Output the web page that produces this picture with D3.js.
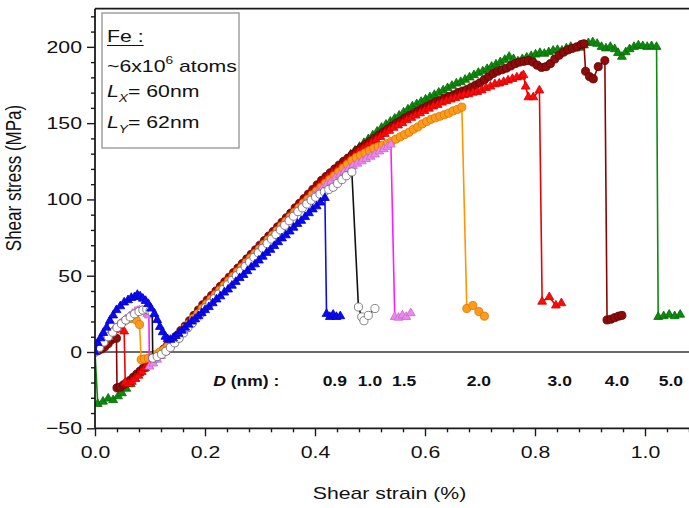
<!DOCTYPE html>
<html>
<head>
<meta charset="utf-8">
<script src="https://cdn.jsdelivr.net/npm/d3@7"></script>
<style>
  body { margin: 0; background: #fff; }
  svg { display: block; }
  text { font-family: Arial, "Liberation Sans", sans-serif; fill: #111; }
</style>
</head>
<body>
<svg id="chart" width="689" height="508"></svg>
<script>
// ---- data: shear strain (%) vs shear stress (MPa) for each void diameter D (nm)
const diameters = ["0.9", "1.0", "1.5", "2.0", "3.0", "4.0", "5.0"];

const curveD09 = [[0,0],[0.005,6],[0.010,9],[0.015,12.5],[0.021,16],[0.027,20.5],[0.033,24],[0.039,27.5],[0.046,30],[0.053,32.5],[0.060,34],[0.066,35.5],[0.072,36],[0.077,37.5],[0.082,36.5],[0.087,35],[0.092,33.5],[0.097,31.5],[0.102,28.5],[0.108,25],[0.113,21],[0.118,16.5],[0.123,13],[0.128,10],[0.132,8.5],[0.137,8],[0.142,9],[0.147,10.5],[0.152,12],[0.158,14],[0.164,16],[0.170,18],[0.176,20],[0.182,21.5],[0.188,23.5],[0.194,25.5],[0.200,27.5],[0.207,29.5],[0.214,32],[0.221,34.5],[0.228,36.5],[0.235,39],[0.242,41],[0.249,43.5],[0.256,46],[0.263,48.5],[0.270,50.5],[0.277,53],[0.284,55.5],[0.291,57.5],[0.298,60],[0.305,62.5],[0.312,65],[0.319,67],[0.326,69.5],[0.333,72],[0.340,74.5],[0.347,76.5],[0.354,79],[0.361,81.5],[0.368,84],[0.375,86],[0.382,88.5],[0.389,91],[0.396,93.5],[0.403,95.5],[0.410,98],[0.418,101],[0.421,25],[0.427,23],[0.433,24.5],[0.439,23],[0.446,23.5]];

const curveD10 = [[0,0],[0.008,3],[0.016,6.5],[0.024,10],[0.032,13],[0.040,16],[0.048,18.5],[0.056,21],[0.064,23],[0.072,25],[0.080,26.5],[0.087,27.5],[0.094,28],[0.100,27],[0.104,26],[0.105,-4],[0.113,-3],[0.121,-1.5],[0.129,0.5],[0.137,3],[0.145,6],[0.153,9],[0.161,12.5],[0.169,16],[0.177,19],[0.185,22.5],[0.193,25.5],[0.201,29],[0.209,32],[0.217,35],[0.225,38],[0.233,41],[0.241,44],[0.249,47],[0.257,50],[0.265,53],[0.273,56],[0.281,59],[0.289,62],[0.297,65],[0.305,68],[0.313,71],[0.321,74],[0.329,77],[0.337,80],[0.345,83],[0.353,86],[0.361,89],[0.369,92],[0.377,94.5],[0.385,97],[0.393,99.5],[0.401,101.5],[0.409,103.5],[0.417,105],[0.425,106.5],[0.433,108],[0.441,110.5],[0.449,113],[0.457,115.5],[0.467,118],[0.479,29.5],[0.485,23],[0.489,20.5],[0.497,24],[0.509,28.5]];

const curveD15 = [[0,0],[0.008,3.5],[0.016,7],[0.024,10],[0.032,13.5],[0.040,16],[0.048,19],[0.056,21.5],[0.063,23.5],[0.068,25],[0.073,26.5],[0.077,27],[0.081,27.5],[0.086,27],[0.090,26.5],[0.095,25],[0.098,24],[0.099,-9.5],[0.106,-7.5],[0.113,-5],[0.120,-2.5],[0.127,0],[0.134,2.5],[0.141,5.5],[0.149,8.5],[0.157,12],[0.165,15],[0.173,18],[0.181,21.5],[0.189,24.5],[0.197,28],[0.205,31],[0.213,34],[0.221,37],[0.229,40],[0.237,43],[0.245,46],[0.253,49],[0.261,52],[0.269,55.5],[0.277,58.5],[0.285,61.5],[0.293,64.5],[0.301,67.5],[0.309,70.5],[0.317,73.5],[0.325,76.5],[0.333,79.5],[0.341,82.5],[0.349,85.5],[0.357,88.5],[0.365,91.5],[0.373,94.5],[0.381,97],[0.389,99.5],[0.397,102],[0.405,104.5],[0.413,107],[0.421,109.5],[0.429,111.5],[0.437,114],[0.445,116],[0.453,118],[0.461,120],[0.469,122],[0.477,123.5],[0.485,125],[0.493,126.5],[0.501,128],[0.509,129.5],[0.517,131.5],[0.525,133],[0.532,134.5],[0.538,136],[0.545,23],[0.552,22.5],[0.559,24],[0.566,23],[0.574,25.5]];

const curveD20 = [[0,0],[0.008,3],[0.016,6.5],[0.024,10],[0.032,13],[0.040,16],[0.048,18.8],[0.057,21],[0.066,22],[0.075,21],[0.081,18],[0.084,-5],[0.090,-4.5],[0.097,-4],[0.104,-3],[0.111,-1.5],[0.118,0],[0.125,1.5],[0.132,3.5],[0.139,6],[0.147,9],[0.155,12],[0.163,15.5],[0.171,18.5],[0.179,22],[0.187,25],[0.195,28.5],[0.203,31.5],[0.211,34.5],[0.219,37.5],[0.227,40.5],[0.235,43.5],[0.243,46.5],[0.251,49.5],[0.259,52.5],[0.267,55.5],[0.275,58.5],[0.283,61.5],[0.291,64.5],[0.299,67.5],[0.307,70.5],[0.315,73.5],[0.323,76.5],[0.331,79.5],[0.339,82.5],[0.347,85.5],[0.355,88.5],[0.363,91.5],[0.371,94.5],[0.379,97.5],[0.387,100],[0.395,103],[0.403,105.5],[0.411,108],[0.419,110.5],[0.427,113],[0.435,115.5],[0.443,118],[0.451,120.5],[0.459,123],[0.467,125.5],[0.475,127.5],[0.483,129],[0.491,130.5],[0.499,132],[0.507,133.5],[0.515,134.5],[0.523,135.5],[0.531,136.5],[0.539,138],[0.547,139.5],[0.555,141],[0.563,142.5],[0.571,144],[0.579,146],[0.587,147.5],[0.595,149.5],[0.603,151],[0.611,152.5],[0.619,153.5],[0.627,154.5],[0.635,155.5],[0.643,156.5],[0.651,158],[0.659,159],[0.667,160.5],[0.676,28.5],[0.687,30.5],[0.698,26.5],[0.708,23.5]];

const curveD30 = [[0,0],[0.006,2.5],[0.012,5],[0.018,7.5],[0.024,10],[0.030,12.5],[0.036,14.5],[0.042,15.5],[0.048,15],[0.053,13.5],[0.055,-20],[0.061,-21],[0.067,-19.5],[0.073,-17.5],[0.079,-15.5],[0.085,-13],[0.091,-10.5],[0.097,-8.5],[0.103,-6],[0.109,-4],[0.115,-2],[0.121,0],[0.128,2.5],[0.135,5],[0.143,8],[0.151,11],[0.159,14.5],[0.167,17.5],[0.175,21],[0.183,24.5],[0.191,28],[0.199,31.5],[0.207,34.5],[0.215,37.5],[0.223,40.5],[0.231,43.5],[0.239,46.5],[0.247,49.5],[0.255,52.5],[0.263,55.5],[0.271,58.5],[0.279,61.5],[0.287,64.5],[0.295,67],[0.303,70],[0.311,73],[0.319,76],[0.327,79],[0.335,82],[0.343,85],[0.351,88],[0.359,91.5],[0.367,94.5],[0.375,97.5],[0.383,100.5],[0.391,103.5],[0.399,106],[0.407,109],[0.415,112],[0.423,114.5],[0.431,117],[0.439,119],[0.447,121.5],[0.455,124],[0.463,126.5],[0.471,128.5],[0.479,131],[0.487,133],[0.495,135],[0.503,137],[0.511,139],[0.519,141],[0.527,143],[0.535,145],[0.543,147],[0.551,148.5],[0.559,150],[0.567,152],[0.575,153.5],[0.583,155],[0.591,156.5],[0.599,158],[0.607,159.5],[0.615,161],[0.623,162],[0.631,163.5],[0.639,164.5],[0.647,165.5],[0.655,166.5],[0.663,167.5],[0.671,168.5],[0.679,169],[0.687,170],[0.695,170.5],[0.703,171.5],[0.711,173],[0.719,174],[0.727,175.5],[0.735,176],[0.743,177],[0.751,178],[0.759,179],[0.767,180],[0.775,180.5],[0.779,181.5],[0.783,174],[0.788,167],[0.797,167],[0.808,171.5],[0.813,33],[0.826,36],[0.838,30.5],[0.848,32]];

const curveD40 = [[0,0],[0.006,1],[0.012,2],[0.018,3.5],[0.024,5.5],[0.030,8],[0.035,9.5],[0.039,9],[0.040,-23.5],[0.046,-23],[0.052,-21.5],[0.058,-20],[0.064,-18.5],[0.070,-16.5],[0.076,-14.5],[0.082,-12.5],[0.088,-10.5],[0.094,-8.5],[0.100,-6.5],[0.106,-4.5],[0.112,-2.5],[0.118,-0.5],[0.125,2],[0.132,4.5],[0.140,7.5],[0.148,10.5],[0.156,14],[0.164,17],[0.172,20.5],[0.180,24],[0.188,27.5],[0.196,31],[0.204,34],[0.212,37],[0.220,40],[0.228,43],[0.236,46],[0.244,49],[0.252,52],[0.260,55],[0.268,58],[0.276,61],[0.284,64],[0.292,67],[0.300,70],[0.308,73],[0.316,76],[0.324,79],[0.332,82],[0.340,85],[0.348,88],[0.356,91],[0.364,94.5],[0.372,97.5],[0.380,100.5],[0.388,103.5],[0.396,106.5],[0.404,109.5],[0.412,112.5],[0.420,115],[0.428,117.5],[0.436,120],[0.444,122.5],[0.452,125],[0.460,127],[0.468,129.5],[0.476,132],[0.484,134],[0.492,136],[0.500,138],[0.508,140],[0.516,142],[0.524,144],[0.532,146],[0.540,148],[0.548,150],[0.556,151.5],[0.564,153.5],[0.572,155],[0.580,156.5],[0.588,158],[0.596,159.5],[0.604,161],[0.612,162.5],[0.620,164],[0.628,165],[0.636,166.5],[0.644,167.5],[0.652,168.5],[0.660,170],[0.668,171],[0.676,172],[0.684,173.5],[0.692,175],[0.700,176.5],[0.708,178.5],[0.716,180.5],[0.724,182.5],[0.732,184],[0.740,185],[0.748,186],[0.756,187.5],[0.764,189],[0.772,190],[0.780,190.5],[0.788,191],[0.796,190],[0.804,188],[0.812,186.5],[0.820,187],[0.828,189],[0.836,192],[0.844,194.5],[0.852,196.5],[0.860,198],[0.868,199],[0.876,200],[0.884,201.5],[0.889,202],[0.892,184],[0.899,180.5],[0.906,179],[0.915,187],[0.927,191],[0.931,21],[0.938,21.5],[0.945,22.5],[0.952,23.5],[0.958,24]];

const curveD50 = [[0,0],[0.005,-34],[0.0145,-32.5],[0.024,-30.5],[0.033,-31.5],[0.042,-29],[0.049,-27],[0.057,-24],[0.065,-21],[0.073,-17.5],[0.081,-14],[0.089,-11],[0.097,-8],[0.105,-5],[0.113,-2.5],[0.121,-0.5],[0.129,2],[0.137,5],[0.145,8],[0.153,11.5],[0.161,15],[0.169,18.5],[0.177,22],[0.185,25.5],[0.193,29],[0.201,32.5],[0.209,35.5],[0.217,38.5],[0.225,41.5],[0.233,44.5],[0.241,47.5],[0.249,50.5],[0.257,53.5],[0.265,56.5],[0.273,59.5],[0.281,62.5],[0.289,65.5],[0.297,68.5],[0.305,71.5],[0.313,74.5],[0.321,77.5],[0.329,80.5],[0.337,83.5],[0.345,86.5],[0.353,89.5],[0.361,92.5],[0.369,95.5],[0.377,98.5],[0.385,101.5],[0.393,104.5],[0.401,107.5],[0.409,110.5],[0.417,113.5],[0.425,116],[0.433,118.5],[0.441,121],[0.449,123.5],[0.457,126.5],[0.465,129.5],[0.473,132],[0.481,134.5],[0.489,137],[0.497,139.5],[0.505,142],[0.513,144.5],[0.521,147],[0.529,149],[0.537,151],[0.545,153],[0.553,155],[0.561,157],[0.569,159],[0.577,161],[0.585,162.5],[0.593,164],[0.601,165.5],[0.609,167],[0.617,168.5],[0.625,170],[0.633,171.5],[0.641,173],[0.649,174.5],[0.657,176],[0.665,177],[0.673,178.5],[0.681,180],[0.689,181.5],[0.697,183],[0.705,184],[0.713,185.5],[0.721,187],[0.729,188.5],[0.737,190],[0.745,191.5],[0.753,193.5],[0.761,192],[0.769,190.5],[0.777,192],[0.785,193],[0.793,194],[0.801,195],[0.809,196],[0.817,195.5],[0.825,196.5],[0.833,197.5],[0.841,198],[0.849,197.5],[0.857,199],[0.865,200],[0.873,199],[0.881,199.5],[0.889,201],[0.897,202.5],[0.905,203],[0.913,202],[0.921,200],[0.929,199],[0.937,200],[0.945,198.5],[0.951,196],[0.958,193.5],[0.965,196.5],[0.972,198.5],[0.980,200],[0.988,201],[0.996,200.5],[1.004,200],[1.012,200.5],[1.021,200],[1.024,23],[1.034,23.5],[1.044,24.5],[1.054,23.5],[1.064,24.5]];

const strainTicks = [0, 0.2, 0.4, 0.6, 0.8, 1.0];
const stressTicks = [-50, 0, 50, 100, 150, 200];

// ---- styling per curve (draw order: back to front)
const curves = [
  { d: "5.0", data: curveD50, shape: "tri",    fill: "#0b8a0b", stroke: "#066a06", line: "#0b8a0b" },
  { d: "4.0", data: curveD40, shape: "circle", fill: "#8e0b0b", stroke: "#5e0000", line: "#8b0000" },
  { d: "3.0", data: curveD30, shape: "tri",    fill: "#ff0a0a", stroke: "#d00000", line: "#ee0000" },
  { d: "2.0", data: curveD20, shape: "circle", fill: "#ff9a1a", stroke: "#d47800", line: "#ff9500" },
  { d: "1.5", data: curveD15, shape: "tri",    fill: "#e88ae8", stroke: "#cf62d6", line: "#ff1aff" },
  { d: "1.0", data: curveD10, shape: "circle", fill: "#ffffff", stroke: "#666666", line: "#111111" },
  { d: "0.9", data: curveD09, shape: "tri",    fill: "#0a0af5", stroke: "#0000c0", line: "#0a0af5" }
];

// strain positions of the D value labels below the zero line
const labelStrain = { "0.9": 0.436, "1.0": 0.5, "1.5": 0.562, "2.0": 0.698, "3.0": 0.845, "4.0": 0.949, "5.0": 1.047 };

const svg = d3.select("#chart");
const SX = 1.25; // horizontal stretch of lettering

const x = d3.scaleLinear().domain([0, 1.1]).range([95, 700]);
const y = d3.scaleLinear().domain([-50, 225]).range([428.3, 8.7]);

function stretchText(sel) {
  sel.each(function () {
    const t = d3.select(this);
    const tx = +t.attr("x") || 0;
    const ty = +t.attr("y") || 0;
    t.attr("x", 0).attr("y", 0).attr("transform", `translate(${tx},${ty}) scale(${SX},1)`);
  });
}

// clip region for the data
svg.append("defs").append("clipPath").attr("id", "plotClip")
  .append("rect").attr("x", x(0)).attr("y", y(225)).attr("width", 700 - x(0)).attr("height", y(-50) - y(225));

// zero line
svg.append("line")
  .attr("x1", x(0)).attr("x2", 700).attr("y1", y(0)).attr("y2", y(0))
  .attr("stroke", "#3a3a3a").attr("stroke-width", 1.5);

// curves
const plot = svg.append("g").attr("clip-path", "url(#plotClip)");
const lineGen = d3.line().x(d => x(d[0])).y(d => y(d[1]));
const triSym = d3.symbol().type(d3.symbolTriangle).size(34);
const cirSym = d3.symbol().type(d3.symbolCircle).size(52);

curves.forEach(c => {
  const g = plot.append("g");
  g.append("path").datum(c.data).attr("d", lineGen)
    .attr("fill", "none").attr("stroke", c.line).attr("stroke-width", 1.6)
    .attr("stroke-linejoin", "round");
  g.selectAll("path.mk").data(c.data).join("path").attr("class", "mk")
    .attr("d", c.shape === "tri" ? triSym : cirSym)
    .attr("transform", d => `translate(${x(d[0])},${y(d[1])})`)
    .attr("fill", c.fill).attr("stroke", c.stroke).attr("stroke-width", 0.8);
});

// axes
const axisColor = "#1a1a1a";
const yMajor = svg.append("g").attr("transform", `translate(${x(0)},0)`)
  .call(d3.axisLeft(y).tickValues(stressTicks).tickSize(8).tickPadding(5));
svg.append("g").attr("transform", `translate(${x(0)},0)`)
  .call(d3.axisLeft(y).tickValues(d3.range(-40, 225, 10).filter(v => v % 50 !== 0)).tickSize(4).tickFormat(""))
  .call(g => g.select(".domain").remove());
const xMajor = svg.append("g").attr("transform", `translate(0,${y(-50)})`)
  .call(d3.axisBottom(x).tickValues(strainTicks).tickFormat(d3.format(".1f")).tickSize(8).tickPadding(10));
svg.append("g").attr("transform", `translate(0,${y(-50)})`)
  .call(d3.axisBottom(x).tickValues(d3.range(0.04, 1.1, 0.04).filter(v => Math.abs(v / 0.2 - Math.round(v / 0.2)) > 1e-6)).tickSize(4).tickFormat(""))
  .call(g => g.select(".domain").remove());

[yMajor, xMajor].forEach(g => g.select(".domain").remove());
svg.selectAll(".tick line").attr("stroke", axisColor).attr("stroke-width", 1.4);
svg.selectAll(".tick text").attr("font-size", 17).attr("fill", "#111");
stretchText(yMajor.selectAll(".tick text"));
stretchText(xMajor.selectAll(".tick text"));

// frame lines
const frame = svg.append("g").attr("stroke", axisColor).attr("stroke-width", 1.8).attr("fill", "none");
frame.append("line").attr("x1", x(0)).attr("x2", x(0)).attr("y1", y(225)).attr("y2", y(-50));
frame.append("line").attr("x1", x(0)).attr("x2", 700).attr("y1", y(-50)).attr("y2", y(-50));
frame.append("line").attr("x1", x(0)).attr("x2", 700).attr("y1", y(225)).attr("y2", y(225));

// axis titles
svg.append("text").attr("font-size", 17).attr("text-anchor", "middle")
  .attr("transform", `translate(${(x(0) + 700) / 2 - 8},499) scale(${SX},1)`)
  .text("Shear strain (%)");
svg.append("text").attr("font-size", 17).attr("text-anchor", "middle")
  .attr("transform", `translate(21,178) scale(${SX},1) rotate(-90)`)
  .text("Shear stress  (MPa)");

// info box
const box = svg.append("g");
box.append("rect").attr("x", 102).attr("y", 13).attr("width", 137).attr("height", 135)
  .attr("fill", "#fff").attr("stroke", "#9a9a9a").attr("stroke-width", 1.4);
const t1 = box.append("text").attr("font-size", 17).attr("transform", `translate(107,42) scale(${SX},1)`).text("Fe :");
box.append("line").attr("x1", 107).attr("x2", 107 + t1.node().getComputedTextLength() * SX)
  .attr("y1", 45.5).attr("y2", 45.5).attr("stroke", "#111").attr("stroke-width", 1.2);
const t2 = box.append("text").attr("font-size", 17).attr("transform", `translate(107,72) scale(${SX},1)`);
t2.append("tspan").text("~6x10");
t2.append("tspan").attr("font-size", 11).attr("dy", -8).text("6");
t2.append("tspan").attr("dy", 8).text(" atoms");
[["X", "= 60nm", 97], ["Y", "= 62nm", 128]].forEach(([sub, rest, by]) => {
  const t = box.append("text").attr("font-size", 17).attr("transform", `translate(107,${by}) scale(${SX},1)`);
  t.append("tspan").attr("font-style", "italic").text("L");
  t.append("tspan").attr("font-style", "italic").attr("font-size", 11).attr("dy", 5).text(sub);
  t.append("tspan").attr("dy", -5).text(rest);
});

// D labels
const dl = svg.append("text").attr("font-size", 14).attr("font-weight", "bold")
  .attr("transform", `translate(${x(0.215)},${y(-22.5)}) scale(${SX},1)`);
dl.append("tspan").attr("font-style", "italic").text("D");
dl.append("tspan").text(" (nm) :");
diameters.forEach(d => {
  svg.append("text").attr("font-size", 14).attr("font-weight", "bold").attr("text-anchor", "middle")
    .attr("transform", `translate(${x(labelStrain[d])},${y(-22.5)}) scale(${SX},1)`)
    .text(d);
});
</script>
</body>
</html>
